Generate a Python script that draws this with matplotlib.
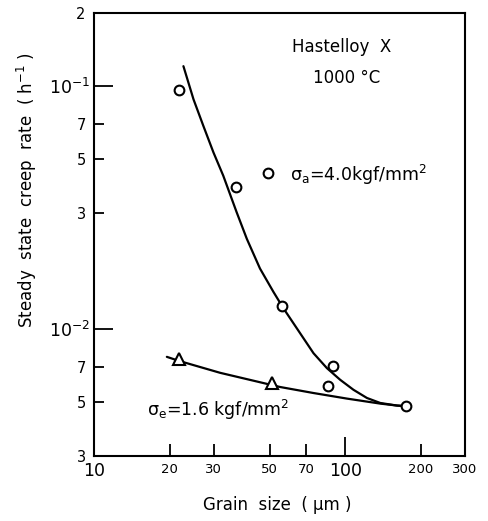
import numpy as np
import matplotlib
matplotlib.use('Agg')
import matplotlib.pyplot as plt
from matplotlib.ticker import FixedLocator, FixedFormatter

plt.rcParams['font.family'] = ['DejaVu Sans']
plt.rcParams['mathtext.fontset'] = 'dejavusans'

# measured points, sigma_a = 4.0 kgf/mm2 (circles)
circ_x = [21.7, 36.7, 49.5, 56.0, 89.8, 85.8, 175]
circ_y = [0.0963, 0.0386, 0.0439, 0.01246, 0.00707, 0.00584, 0.00481]

# measured points, sigma_e = 1.6 kgf/mm2 (triangles)
tri_x = [21.75, 51.2]
tri_y = [0.00751, 0.00601]

# hand-drawn trend lines
upper_x = [22.7, 24.9, 27.25, 29.9, 32.7, 37.0, 40.6, 45.8, 51.8, 56.8,
           66.2, 74.8, 84.6, 95.5, 107.9, 122.1, 137.9, 160.7, 175]
upper_y = [0.1208, 0.0882, 0.0686, 0.0533, 0.0428, 0.0302, 0.0235, 0.01774, 0.01422, 0.01216,
           0.0096, 0.00795, 0.0069, 0.00618, 0.00562, 0.0052, 0.00496, 0.00484, 0.00481]
lower_x = [19.5, 21.8, 31.8, 55.1, 74.8, 101.6, 137.9, 160.7, 175]
lower_y = [0.00768, 0.00739, 0.0066, 0.00577, 0.00545, 0.00517, 0.00493, 0.00484, 0.00481]

# ticks
xmaj = [10, 100]
xmaj_lab = ['10', '100']
xmin = [20, 30, 50, 70, 200, 300]
xmin_lab = ['20', '30', '50', '70', '200', '300']
ymaj = [0.01, 0.1]
ymaj_lab = ['$10^{-2}$', '$10^{-1}$']
ymin = [0.003, 0.005, 0.007, 0.03, 0.05, 0.07, 0.2]
ymin_lab = ['3', '5', '7', '3', '5', '7', '2']

fig = plt.figure(figsize=(4.89, 5.21), dpi=100)
ax = fig.add_axes([94/489, 1-456/521, 371/489, 443/521])
ax.set_xscale('log')
ax.set_yscale('log')
ax.set_xlim(10, 300)
ax.set_ylim(0.003, 0.2)

ax.plot(upper_x, upper_y, color='black', lw=1.6, solid_capstyle='round', solid_joinstyle='round')
ax.plot(lower_x, lower_y, color='black', lw=1.6, solid_capstyle='round', solid_joinstyle='round')
ax.plot(circ_x, circ_y, 'o', ms=7, mfc='white', mec='black', mew=1.5)
ax.plot(tri_x, tri_y, '^', ms=8.5, mfc='white', mec='black', mew=1.5)

ax.xaxis.set_major_locator(FixedLocator(xmaj))
ax.xaxis.set_major_formatter(FixedFormatter(xmaj_lab))
ax.xaxis.set_minor_locator(FixedLocator(xmin))
ax.xaxis.set_minor_formatter(FixedFormatter(xmin_lab))
ax.yaxis.set_major_locator(FixedLocator(ymaj))
ax.yaxis.set_major_formatter(FixedFormatter(ymaj_lab))
ax.yaxis.set_minor_locator(FixedLocator(ymin))
ax.yaxis.set_minor_formatter(FixedFormatter(ymin_lab))

ax.tick_params(which='both', direction='in', top=False, right=False, width=1.3)
ax.tick_params(axis='x', which='major', length=13.5, labelsize=12.5, pad=4)
ax.tick_params(axis='x', which='minor', length=8.5, labelsize=9.5, pad=5)
ax.tick_params(axis='y', which='major', length=13.5, labelsize=12.5, pad=3)
ax.tick_params(axis='y', which='minor', length=7.5, labelsize=10.5, pad=6)
for s in ax.spines.values():
    s.set_linewidth(1.5)

ax.text(0.668, 0.923, 'Hastelloy  X', transform=ax.transAxes, ha='center', va='center', fontsize=12)
ax.text(0.682, 0.853, '1000 °C', transform=ax.transAxes, ha='center', va='center', fontsize=12)
ax.text(0.528, 0.634, r'$\mathrm{\sigma_a}$=4.0kgf/mm$^2$', transform=ax.transAxes,
        ha='left', va='center', fontsize=12.5)
ax.text(0.143, 0.104, r'$\mathrm{\sigma_e}$=1.6 kgf/mm$^2$', transform=ax.transAxes,
        ha='left', va='center', fontsize=12.5)

fig.text(27/489, 1-190/521, r'Steady  state  creep  rate  ( h$^{-1}$ )', rotation=90,
         ha='center', va='center', fontsize=12)
fig.text(277/489, 1-505/521, 'Grain  size  ( μm )', ha='center', va='center', fontsize=12)

fig.savefig('out.png', dpi=100)
